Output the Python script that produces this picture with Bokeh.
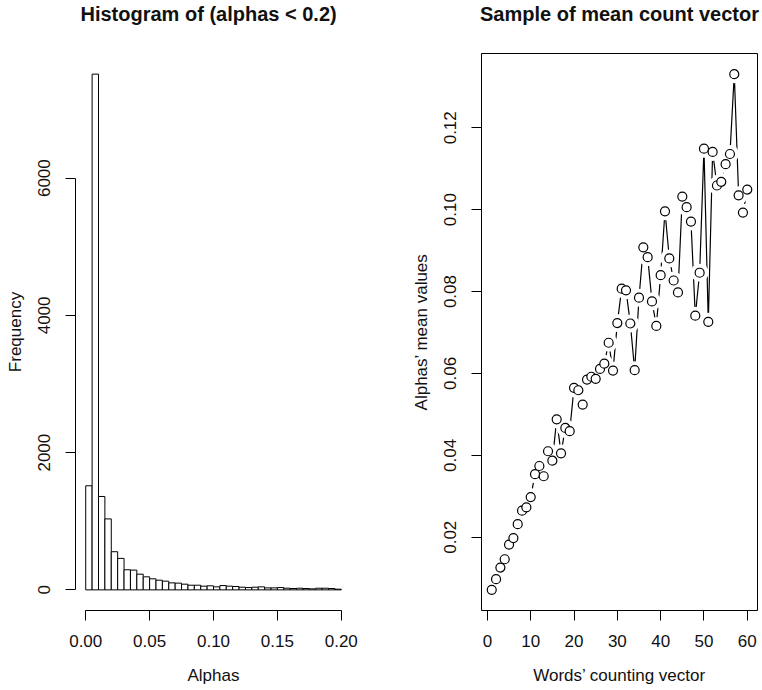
from bokeh.plotting import figure
from bokeh.layouts import row
from bokeh.models import FixedTicker, NumeralTickFormatter, Range1d, ColumnDataSource, Title
from bokeh.embed import file_html
from bokeh.resources import INLINE

# ---------------- data ----------------
hist_breaks = [round(0.005 * i, 3) for i in range(41)]
hist_counts = [1517, 7516, 1361, 1034, 556, 459, 293, 288, 229, 190,
               161, 141, 127, 102, 98, 83, 68, 68, 54, 59,
               44, 63, 54, 49, 39, 34, 39, 44, 29, 29,
               34, 24, 20, 24, 20, 15, 24, 24, 20, 10]

word_index = list(range(1, 61))
alpha_means = [0.00715, 0.00976, 0.0126, 0.01463, 0.0182, 0.0198, 0.0232, 0.0265, 0.0273, 0.0298,
               0.0354, 0.0374, 0.0349, 0.0410, 0.0387, 0.0488, 0.0405, 0.0467, 0.0459, 0.0565,
               0.0559, 0.0524, 0.0585, 0.0592, 0.0587, 0.0611, 0.0624, 0.0675, 0.0607, 0.0723,
               0.0807, 0.0803, 0.0722, 0.0608, 0.0785, 0.0908, 0.0884, 0.0776, 0.0716, 0.0840,
               0.0996, 0.0881, 0.0827, 0.0798, 0.1032, 0.1006, 0.0971, 0.0741, 0.0846, 0.1149,
               0.0726, 0.1141, 0.1059, 0.1068, 0.1111, 0.1136, 0.1331, 0.1035, 0.0993, 0.1049]

hist_xticks = [0.0, 0.05, 0.10, 0.15, 0.20]
hist_yticks = [0, 2000, 4000, 6000]
mean_xticks = [0, 10, 20, 30, 40, 50, 60]
mean_yticks = [0.02, 0.04, 0.06, 0.08, 0.10, 0.12]

FONT = "Liberation Sans"
TXT = "#111111"


def style_axes(p):
    for ax in (p.xaxis[0], p.yaxis[0]):
        ax.major_label_text_font = FONT
        ax.major_label_text_font_size = "17px"
        ax.major_label_text_color = TXT
        ax.axis_label_text_font = FONT
        ax.axis_label_text_font_size = "17px"
        ax.axis_label_text_font_style = "normal"
        ax.axis_label_text_color = TXT
        ax.major_tick_out = 10
        ax.major_tick_in = 0
        ax.minor_tick_out = 0
        ax.minor_tick_in = 0
        ax.axis_line_color = "black"
        ax.major_tick_line_color = "black"
        ax.axis_line_width = 1
    p.yaxis[0].major_label_orientation = "vertical"
    p.xaxis[0].major_label_standoff = 14
    p.yaxis[0].major_label_standoff = 15
    p.xaxis[0].axis_label_standoff = 16
    p.yaxis[0].axis_label_standoff = 11
    p.xgrid.visible = False
    p.ygrid.visible = False


def add_title(p, text, align, offset):
    # spacer nearest the frame, then the real title above it
    p.add_layout(Title(text=" ", text_font_size="24px", standoff=0), "above")
    p.add_layout(Title(text=text, text_font=FONT, text_font_size="20px", text_font_style="bold",
                       text_color=TXT, align=align, offset=offset, standoff=0,
                       vertical_align="bottom"), "above")


# ---------------- left: histogram ----------------
p1 = figure(width=389, height=690, output_backend="svg", toolbar_location=None,
            x_range=Range1d(-0.008, 0.208), y_range=Range1d(-300.6, 7816.6),
            min_border_left=75, min_border_right=38, min_border_top=53, min_border_bottom=80,
            x_axis_label="Alphas", y_axis_label="Frequency")
p1.outline_line_color = None
src1 = ColumnDataSource(dict(left=hist_breaks[:-1], right=hist_breaks[1:], top=hist_counts))
p1.quad(left="left", right="right", bottom=0, top="top", source=src1,
        fill_color="white", line_color="black", line_width=1)
style_axes(p1)
add_title(p1, "Histogram of (alphas < 0.2)", "left", 5)
p1.xaxis[0].ticker = FixedTicker(ticks=hist_xticks)
p1.yaxis[0].ticker = FixedTicker(ticks=hist_yticks)
p1.xaxis[0].formatter = NumeralTickFormatter(format="0.00")
p1.yaxis[0].formatter = NumeralTickFormatter(format="0")
p1.xaxis[0].bounds = (hist_xticks[0], hist_xticks[-1])
p1.yaxis[0].bounds = (hist_yticks[0], hist_yticks[-1])

# ---------------- right: mean values ----------------
p2 = figure(width=373, height=690, output_backend="svg", toolbar_location=None,
            x_range=Range1d(-1.36, 62.36), y_range=Range1d(0.00211, 0.13814),
            min_border_left=92, min_border_right=5, min_border_top=53, min_border_bottom=80,
            x_axis_label="Words\u2019 counting vector",
            y_axis_label="Alphas\u2019 mean values")
p2.outline_line_color = "black"
p2.outline_line_width = 1
src2 = ColumnDataSource(dict(x=word_index, y=alpha_means))
p2.line("x", "y", source=src2, line_color="black", line_width=1.2)
p2.scatter("x", "y", source=src2, size=18, fill_color="white", line_color=None)
p2.scatter("x", "y", source=src2, size=9, fill_color="white", line_color="black", line_width=1.2)
style_axes(p2)
add_title(p2, "Sample of mean count vector", "center", 0)
p2.xaxis[0].ticker = FixedTicker(ticks=mean_xticks)
p2.yaxis[0].ticker = FixedTicker(ticks=mean_yticks)
p2.xaxis[0].formatter = NumeralTickFormatter(format="0")
p2.yaxis[0].formatter = NumeralTickFormatter(format="0.00")
p2.xaxis[0].bounds = (mean_xticks[0], mean_xticks[-1])
p2.yaxis[0].bounds = (mean_yticks[0], mean_yticks[-1])

layout = row(p1, p2)
open("out.html", "w").write(file_html(layout, INLINE))
